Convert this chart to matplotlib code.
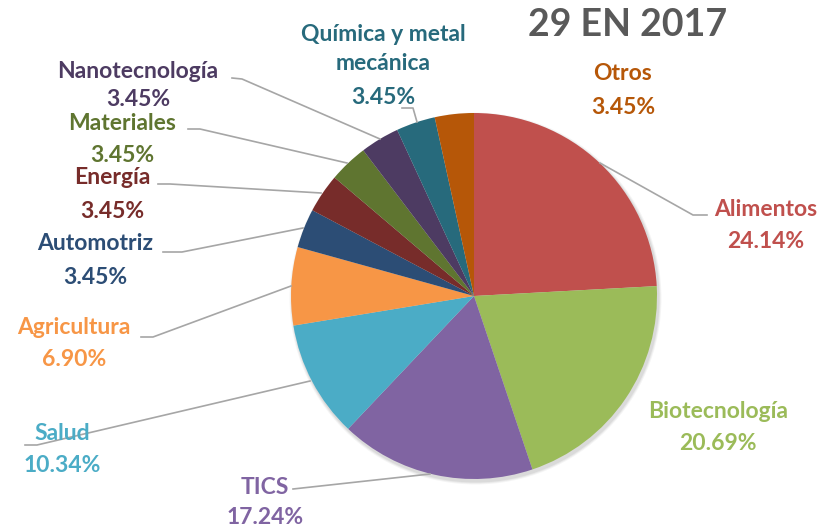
import matplotlib.pyplot as plt
from matplotlib.patches import Circle

plt.rcParams['font.family'] = ['Lato', 'DejaVu Sans']

# number of projects per sector (29 in total)
sectors = ['Alimentos', 'Biotecnología', 'TICS', 'Salud', 'Agricultura',
           'Automotriz', 'Energía', 'Materiales', 'Nanotecnología',
           'Química y metal\nmecánica', 'Otros']
counts = [7, 6, 5, 3, 2, 1, 1, 1, 1, 1, 1]
slice_colors = ['#C0504D', '#9BBB59', '#8064A2', '#4BACC6', '#F79646',
                '#2C4D75', '#772C2A', '#5F7530', '#4D3B62', '#276A7C', '#B65708']
label_colors = ['#C0504D', '#9BBB59', '#8064A2', '#4BACC6', '#F79646',
                '#2C4D75', '#772C2A', '#5F7530', '#4D3B62', '#276A7C', '#B65708']
title = '29 EN 2017'

W, H = 827, 530
fig = plt.figure(figsize=(W / 100, H / 100), dpi=100)
ax = fig.add_axes([0, 0, 1, 1])


def py(y):
    # image rows run downward, data y runs upward
    return H - y


cx, cy, r = 474, 296, 183

# soft shadow under the pie
for i, a in enumerate([0.06, 0.05, 0.04]):
    ax.add_patch(Circle((cx + 1.5, py(cy) - 2.5), r + 1 + i, color='#000000',
                        alpha=a, lw=0, zorder=1))

ax.pie(counts, colors=slice_colors, startangle=90, counterclock=False,
       center=(cx, py(cy)), radius=r, frame=True,
       wedgeprops=dict(linewidth=0, zorder=2))
ax.set_xlim(0, W)
ax.set_ylim(0, H)
ax.set_aspect('equal')
ax.axis('off')

total = sum(counts)
pcts = [f'{c / total * 100:.2f}%' for c in counts]

# label centres (name line, percentage line)
label_pos = [
    (766, 210, 242),
    (718, 412, 444),
    (265, 488, 518),
    (62, 433, 465),
    (74, 328, 360),
    (95, 244, 277),
    (112, 178, 211),
    (122, 123, 155),
    (138, 72, 100),
    (383, 49, 97),
    (623, 74, 107),
]
fs = 16.5
for name, pct, col, (x, y1, y2) in zip(sectors, pcts, label_colors, label_pos):
    ax.text(x, py(y1), name, ha='center', va='center', fontsize=fs,
            fontweight='bold', color=col, linespacing=1.42, zorder=4)
    ax.text(x, py(y2), pct, ha='center', va='center', fontsize=fs,
            fontweight='bold', color=col, zorder=4)

# leader lines
leaders = [
    [(707, 215), (693, 215), (600, 163)],
    [(293, 489), (430, 474)],
    [(25, 445), (37, 445), (310, 381)],
    [(141, 337), (153, 337), (291, 286)],
    [(163, 252), (182, 252), (303, 228)],
    [(158, 184), (170, 184), (321, 193)],
    [(188, 129), (200, 129), (347, 163)],
    [(232, 78), (242, 79), (380, 139)],
    [(402, 108), (413, 108), (417, 122)],
]
for pts in leaders:
    xs = [p[0] for p in pts]
    ys = [py(p[1]) for p in pts]
    ax.plot(xs, ys, color='#A6A6A6', lw=1.2, zorder=3)

ax.text(628, py(25), title, ha='center', va='center', fontsize=27,
        fontweight='bold', color='#595959')

fig.savefig('out.png', dpi=100)
